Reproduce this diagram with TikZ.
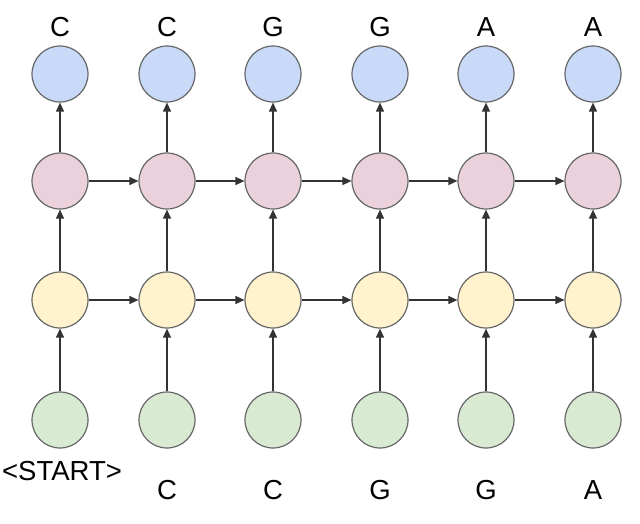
\documentclass[tikz,border=0pt]{standalone}
\usepackage{fontspec}
\setmainfont{Liberation Sans}
\usetikzlibrary{arrows.meta}
\definecolor{outblue}{HTML}{C9DAF8}
\definecolor{hidpink}{HTML}{EAD1DC}
\definecolor{hidyellow}{HTML}{FFF2CC}
\definecolor{ingreen}{HTML}{D9EAD3}
\tikzset{
  unit/.style={circle, draw=black!60, line width=1.2pt, fill=#1, minimum size=56pt, inner sep=0pt},
  arr/.style={-{Triangle[length=9pt,width=8pt]}, line width=1.3pt, draw=black!80},
  lbl/.style={font=\fontsize{27.5}{31}\selectfont, inner sep=0pt},
}
\begin{document}
\begin{tikzpicture}[x=1pt, y=-1pt]
\useasboundingbox (0,0) rectangle (640,523);

% one column per time step
\foreach \i/\inp/\out in {0/C/C, 1/C/C, 2/C/G, 3/G/G, 4/G/A, 5/A/A} {
  \pgfmathsetmacro{\cx}{int(60.5+106.5*\i)}
  \node[unit=ingreen]   (x\i) at (\cx,420) {};
  \node[unit=hidyellow] (h\i) at (\cx,300) {};
  \node[unit=hidpink]   (g\i) at (\cx,181) {};
  \node[unit=outblue]   (y\i) at (\cx,74) {};
  \node[lbl] (t\i) at (\cx,27) {\out};
  \ifnum\i>0 \node[lbl] (b\i) at (\cx,490) {\inp}; \fi
  \draw[arr] (x\i) -- (h\i);
  \draw[arr] (h\i) -- (g\i);
  \draw[arr] (g\i) -- (y\i);
}
\node[lbl] (b0) at (62,471) {<START>};

% recurrent connections
\foreach \i [evaluate=\i as \j using int(\i+1)] in {0,...,4} {
  \draw[arr] (h\i) -- (h\j);
  \draw[arr] (g\i) -- (g\j);
}

\end{tikzpicture}
\end{document}
